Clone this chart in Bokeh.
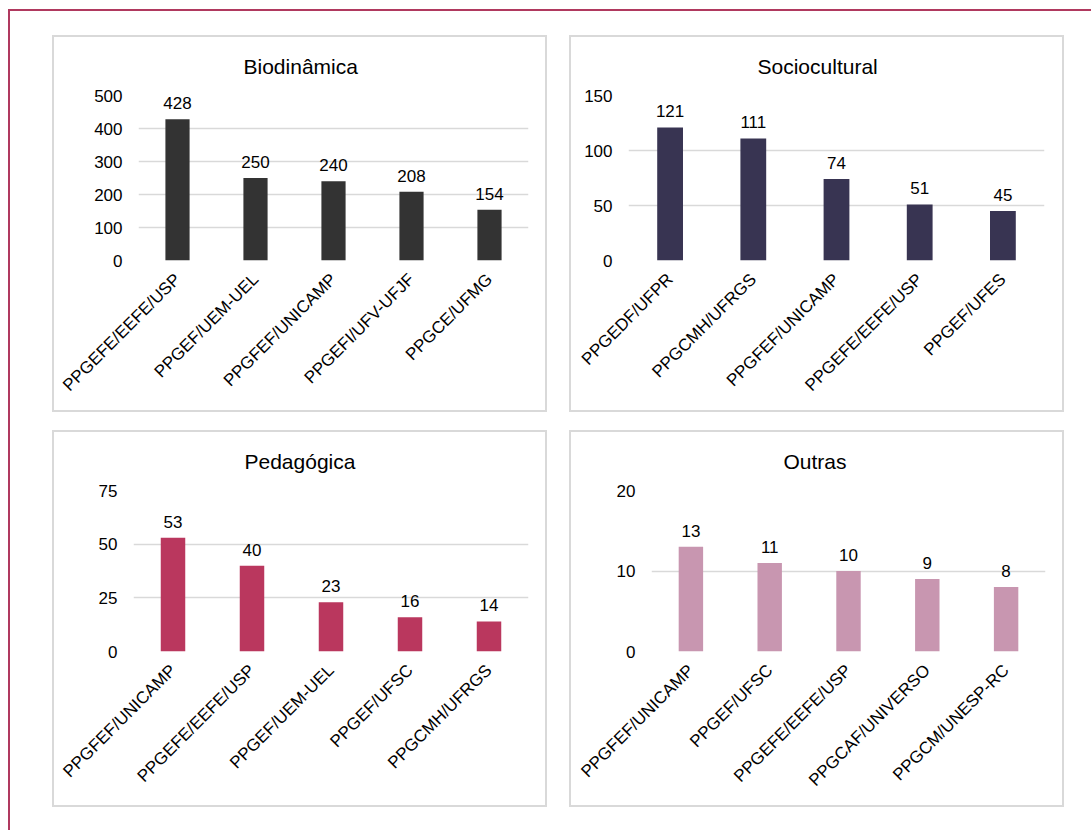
from math import pi
from bokeh.plotting import figure
from bokeh.models import ColumnDataSource, FactorRange, Range1d, FixedTicker, LabelSet, InlineStyleSheet
from bokeh.core.properties import value
from bokeh.layouts import row, column
from bokeh.embed import file_html
from bokeh.resources import INLINE

# ---------------- data ----------------
bio_title = "Biodinâmica"
bio_cats = ["PPGEFE/EEFE/USP", "PPGEF/UEM-UEL", "PPGFEF/UNICAMP", "PPGEFI/UFV-UFJF", "PPGCE/UFMG"]
bio_vals = [428, 250, 240, 208, 154]
bio_ticks = [0, 100, 200, 300, 400, 500]

soc_title = "Sociocultural"
soc_cats = ["PPGEDF/UFPR", "PPGCMH/UFRGS", "PPGFEF/UNICAMP", "PPGEFE/EEFE/USP", "PPGEF/UFES"]
soc_vals = [121, 111, 74, 51, 45]
soc_ticks = [0, 50, 100, 150]

ped_title = "Pedagógica"
ped_cats = ["PPGFEF/UNICAMP", "PPGEFE/EEFE/USP", "PPGEF/UEM-UEL", "PPGEF/UFSC", "PPGCMH/UFRGS"]
ped_vals = [53, 40, 23, 16, 14]
ped_ticks = [0, 25, 50, 75]

out_title = "Outras"
out_cats = ["PPGFEF/UNICAMP", "PPGEF/UFSC", "PPGEFE/EEFE/USP", "PPGCAF/UNIVERSO", "PPGCM/UNESP-RC"]
out_vals = [13, 11, 10, 9, 8]
out_ticks = [0, 10, 20]

FONT = "Liberation Sans"
GRID = "#d9d9d9"


def panel(title, cats, vals, ticks, color, mb_left, mb_right, mb_top, mb_bottom, title_off):
    src = ColumnDataSource(dict(cat=cats, val=vals, lab=[str(v) for v in vals]))
    p = figure(x_range=FactorRange(*cats, range_padding=0),
               y_range=Range1d(ticks[0], ticks[-1]),
               width=495, height=377, output_backend="svg", toolbar_location=None,
               min_border_left=mb_left, min_border_right=mb_right + 4,
               min_border_top=mb_top, min_border_bottom=mb_bottom + 4)
    p.title.text = title
    p.title.align = "left"
    p.title.offset = title_off
    p.title.vertical_align = "top"
    p.title.standoff = 32
    p.title.text_font = FONT
    p.title.text_font_size = "21px"
    p.title.text_font_style = "normal"
    p.title.text_color = "#000000"
    p.vbar(x="cat", top="val", width=0.31, source=src, fill_color=color, line_color=None)
    p.add_layout(LabelSet(x="cat", y="val", text="lab", source=src, text_align="center",
                          text_baseline="bottom", y_offset=10, text_font=value(FONT),
                          text_font_size=value("17px"), text_color="#000000"))
    p.outline_line_color = None
    p.background_fill_color = "white"
    p.border_fill_color = "white"
    p.xgrid.grid_line_color = None
    p.ygrid.grid_line_color = GRID
    p.ygrid.grid_line_width = 1.5
    p.yaxis.ticker = FixedTicker(ticks=ticks)
    for ax in (p.xaxis[0], p.yaxis[0]):
        ax.axis_line_color = None
        ax.major_tick_line_color = None
        ax.minor_tick_line_color = None
        ax.major_tick_out = 0
        ax.major_tick_in = 0
        ax.major_label_text_font = FONT
        ax.major_label_text_font_size = "17px"
        ax.major_label_text_color = "#000000"
    p.yaxis.major_label_standoff = 16
    p.xaxis.major_label_standoff = 16
    p.xaxis.major_label_orientation = pi / 4
    p.stylesheets = [InlineStyleSheet(css=":host { border: 2px solid #d9d9d9; }")]
    return p


p1 = panel(bio_title, bio_cats, bio_vals, bio_ticks, "#333333", 84, 17, 58, 150, 105)
p2 = panel(soc_title, soc_cats, soc_vals, soc_ticks, "#383452", 57, 18, 58, 150, 129)
p3 = panel(ped_title, ped_cats, ped_vals, ped_ticks, "#ba375e", 79, 17, 58, 151, 111)
p4 = panel(out_title, out_cats, out_vals, out_ticks, "#c896b0", 80, 17, 58, 154, 132)

grid = column(row(p1, p2, spacing=22), row(p3, p4, spacing=22), spacing=18)
grid.margin = (24, 0, 0, 42)
outer = column(grid, width=1083, height=821)
outer.margin = (9, 0, 0, 8)
outer.stylesheets = [InlineStyleSheet(css=":host { border-left: 2px solid #b0395f; border-top: 2px solid #b0395f; }")]

open("out.html", "w").write(file_html(outer, INLINE))
